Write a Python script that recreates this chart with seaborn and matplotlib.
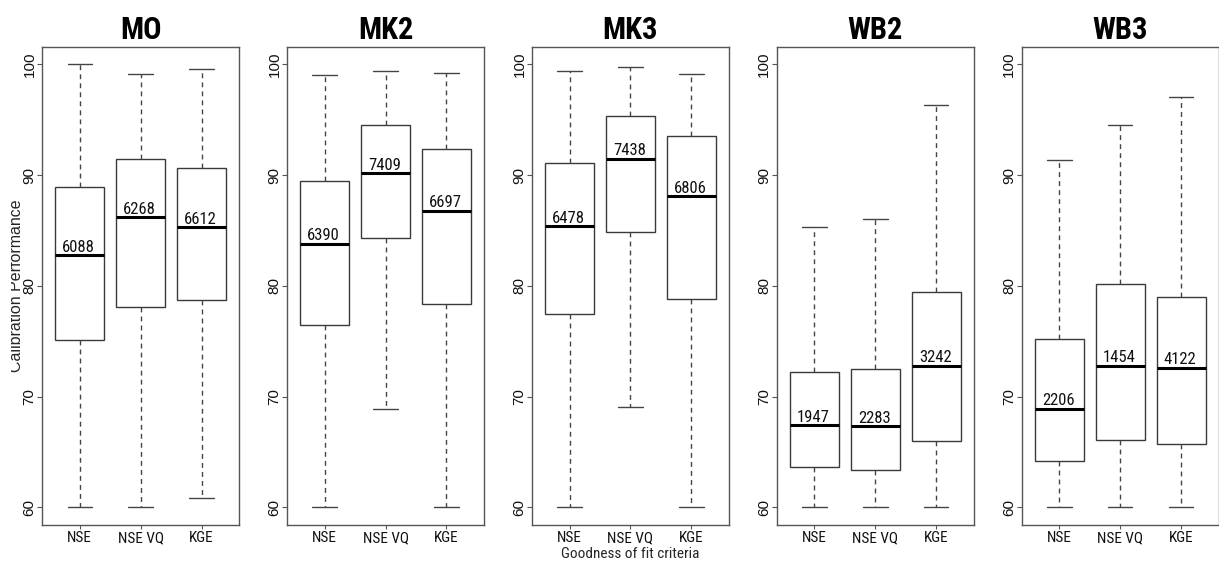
import matplotlib
matplotlib.use("Agg")
import pandas as pd
import matplotlib.pyplot as plt
import seaborn as sns
from matplotlib import font_manager
from matplotlib.patches import Rectangle

# models (panels) and criteria (boxes)
models = ["MO", "MK2", "MK3", "WB2", "WB3"]
criteria = ["NSE", "NSE VQ", "KGE"]

# five-number summaries: min, q1, median, q3, max
mo = [[60.0, 75.1, 82.8, 88.9, 100.0],
      [60.0, 78.1, 86.2, 91.5, 99.1],
      [60.8, 78.7, 85.3, 90.6, 99.6]]
mk2 = [[60.0, 76.5, 83.8, 89.5, 99.05],
       [68.9, 84.3, 90.2, 94.5, 99.4],
       [60.0, 78.4, 86.8, 92.4, 99.2]]
mk3 = [[60.0, 77.5, 85.4, 91.1, 99.4],
       [69.1, 84.9, 91.5, 95.3, 99.8],
       [60.0, 78.8, 88.1, 93.5, 99.1]]
wb2 = [[60.0, 63.6, 67.4, 72.2, 85.3],
       [60.0, 63.4, 67.3, 72.5, 86.0],
       [60.0, 66.0, 72.8, 79.4, 96.3]]
wb3 = [[60.0, 64.2, 68.9, 75.2, 91.4],
       [60.0, 66.1, 72.8, 80.2, 94.5],
       [60.0, 65.7, 72.6, 79.0, 97.1]]

# numbers printed above the medians
mo_n = [6088, 6268, 6612]
mk2_n = [6390, 7409, 6697]
mk3_n = [6478, 7438, 6806]
wb2_n = [1947, 2283, 3242]
wb3_n = [2206, 1454, 4122]

summaries = [mo, mk2, mk3, wb2, wb3]
counts = [mo_n, mk2_n, mk3_n, wb2_n, wb3_n]

rows = []
for m, summ in zip(models, summaries):
    for c, vals in zip(criteria, summ):
        for v in vals:
            rows.append({"model": m, "criterion": c, "value": v})
df = pd.DataFrame(rows)

sns.set_style("white")

installed = {f.name for f in font_manager.fontManager.ttflist}
narrow = "Liberation Sans"
for cand in ["Liberation Sans Narrow", "Arial Narrow", "Roboto Condensed"]:
    if cand in installed:
        narrow = cand
        break
regular = "Liberation Sans"

fig = plt.figure(figsize=(12.19, 5.66), dpi=100)
W, H = 1219.0, 566.0

for i, (m, summ, ns) in enumerate(zip(models, summaries, counts)):
    left = (42 + 244.9 * i) / W
    ax = fig.add_axes([left, 41 / H, 197.3 / W, 478.3 / H])
    sub = df[df["model"] == m]
    sns.boxplot(data=sub, x="criterion", y="value", order=criteria, ax=ax,
                whis=(0, 100), width=0.8, showfliers=False,
                color="white", linecolor="#3a3a3a", linewidth=1.0,
                medianprops=dict(color="black", linewidth=2.2),
                whiskerprops=dict(color="#444444", linestyle=(0, (3.5, 3.0))),
                capprops=dict(color="#444444"))
    ax.set_xlim(-0.62, 2.62)
    ax.set_ylim(58.4, 101.6)
    ax.set_yticks([60, 70, 80, 90, 100])
    ax.set_yticklabels(["60", "70", "80", "90", "100"], rotation=90, va="center",
                       family=regular, fontsize=11, color="#111111")
    ax.set_xticks(range(len(criteria)))
    ax.set_xticklabels(criteria, family=narrow, fontsize=11, color="#111111")
    ax.tick_params(axis="x", bottom=True, length=3, width=0.8, color="#555555", pad=1.5)
    ax.tick_params(axis="y", left=True, length=3.4, width=0.8, color="#555555", pad=0.5)
    for sp in ax.spines.values():
        sp.set_color("#555555")
        sp.set_linewidth(1.0)
    ax.set_title(m, family=narrow, fontsize=22, fontweight="bold", pad=5.5, color="black")
    ax.set_xlabel("")
    ax.set_ylabel("")

    for j, (vals, n) in enumerate(zip(summ, ns)):
        ax.annotate(str(n), xy=(j - 0.4, vals[2]), xytext=(5.0, 2.4),
                    textcoords="offset points", ha="left", va="baseline",
                    family=narrow, fontsize=12, color="#111111")

    if i == 0:
        ax.set_ylabel("Calibration Performance", family=regular, fontsize=11.5)
        ax.yaxis.set_label_coords((24.0 - 42) / 197.3, 0.5)
    if i == 2:
        ax.set_xlabel("Goodness of fit criteria", family=narrow, fontsize=11, labelpad=1.5)

# the left edge of the original image cuts through the axis title
fig.patches.append(Rectangle((0, 0), 11 / W, 1, transform=fig.transFigure,
                             facecolor="white", edgecolor="none", zorder=10))

fig.savefig("out.png", dpi=100, facecolor="white")
